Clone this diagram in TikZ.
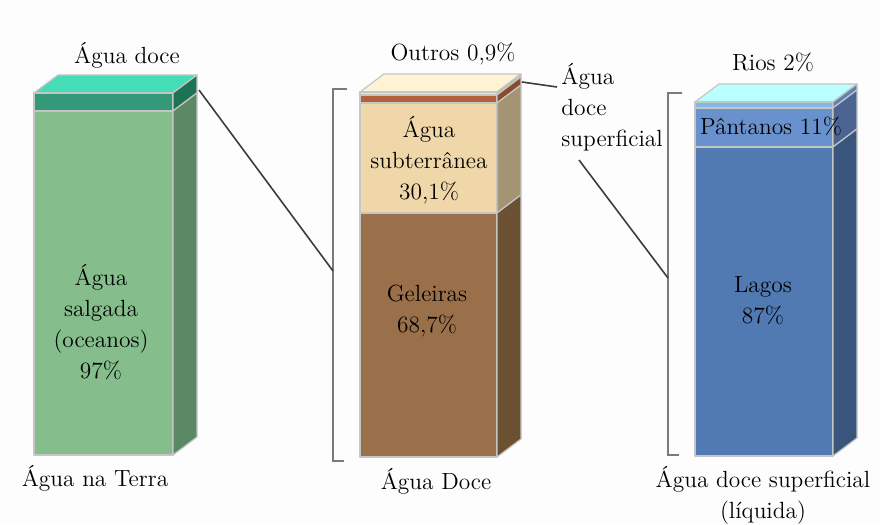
\documentclass[tikz,border=0pt]{standalone}
\usepackage{xcolor}
\usetikzlibrary{positioning,calc}

\definecolor{bg}{HTML}{FCFDFC}
\definecolor{edgegray}{HTML}{C4C6C4}
\definecolor{bracegray}{HTML}{7A7A7A}
\definecolor{linkgray}{HTML}{3C3C3C}
% green bar
\definecolor{gtop}{HTML}{44DDB7}
\definecolor{gstrip}{HTML}{339978}
\definecolor{gstripside}{HTML}{1F7355}
\definecolor{gfront}{HTML}{85BE8C}
\definecolor{gside}{HTML}{5A8964}
% brown bar
\definecolor{ctop}{HTML}{FFF3D6}
\definecolor{cband}{HTML}{F3E3C6}
\definecolor{cbandside}{HTML}{C9BB9E}
\definecolor{redstrip}{HTML}{B45F3C}
\definecolor{redside}{HTML}{8A4A2E}
\definecolor{tan}{HTML}{F0D7AA}
\definecolor{tanside}{HTML}{A59473}
\definecolor{brownfront}{HTML}{9A704A}
\definecolor{brownside}{HTML}{6B5032}
% blue bar
\definecolor{btop}{HTML}{B9FFFF}
\definecolor{rios}{HTML}{84B6E6}
\definecolor{riosside}{HTML}{5E82B4}
\definecolor{pant}{HTML}{6991CD}
\definecolor{pantside}{HTML}{4B6491}
\definecolor{bluefront}{HTML}{5179B2}
\definecolor{blueside}{HTML}{3A557D}

% one layer of a bar: x1, x2, ytop, ybot, front colour, side colour
\newcommand{\slab}[6]{%
  \filldraw[edge,fill=#5] (#1,#3) rectangle (#2,#4);
  \filldraw[edge,fill=#6] (#2,#3) -- ({#2+24},{#3-18}) -- ({#2+24},{#4-18}) -- (#2,#4) -- cycle;}
% top face of a bar: x1, x2, ytop, colour
\newcommand{\lid}[4]{%
  \filldraw[edge,fill=#4] (#1,#3) -- ({#1+24},{#3-18}) -- ({#2+24},{#3-18}) -- (#2,#3) -- cycle;}

\begin{document}
\begin{tikzpicture}[x=0.5pt,y=-0.5pt,
    edge/.style={draw=edgegray,line width=0.6pt,line join=round},
    lbl/.style={font=\fontsize{11.7}{15.5}\selectfont,align=center,inner sep=0pt},
    brace/.style={draw=bracegray,line width=0.8pt},
    link/.style={draw=linkgray,line width=0.8pt}]
    \fill[bg] (0,0) rectangle (880,524);

    % Agua na Terra
    \lid{34}{173}{93}{gtop}
    \slab{34}{173}{93}{111}{gstrip}{gstripside}
    \slab{34}{173}{111}{455}{gfront}{gside}
    \node[lbl] (gdoce) at (127,55) {Água doce};
    \node[lbl] (gsal) at (101,322) {Água\\salgada\\(oceanos)\\97\%};
    \node[lbl] (terra) at (95,478) {Água na Terra};

    % Agua doce
    \lid{360}{497}{92}{ctop}
    \slab{360}{497}{92}{95}{cband}{cbandside}
    \slab{360}{497}{95}{103}{redstrip}{redside}
    \slab{360}{497}{103}{213}{tan}{tanside}
    \slab{360}{497}{213}{457}{brownfront}{brownside}
    \node[lbl] (outros) at (453,54) {Outros 0,9\%};
    \node[lbl] (sub) at (429,160) {Água\\subterrânea\\30,1\%};
    \node[lbl] (gel) at (427,311) {Geleiras\\68,7\%};
    \node[lbl] (doce) at (436,481) {Água Doce};
    \node[lbl,align=left,anchor=west] (sup) at (561,107) {Água\\doce\\superficial};

    % Agua doce superficial
    \lid{695}{833}{102}{btop}
    \slab{695}{833}{102}{108}{rios}{riosside}
    \slab{695}{833}{108}{147}{pant}{pantside}
    \slab{695}{833}{147}{456}{bluefront}{blueside}
    \node[lbl] (rio) at (773,62) {Rios 2\%};
    \node[lbl] (pan) at (771,126) {Pântanos 11\%};
    \node[lbl] (lag) at (763,301) {Lagos\\87\%};
    \node[lbl] (liq) at (763,495) {Água doce superficial\\(líquida)};

    % brackets
    \draw[brace] (347,89) -- (333,89) -- (333,461) -- (344,461);
    \draw[brace] (682,93) -- (668,93) -- (668,455) -- (679,455);
    \coordinate (b1) at (333,271);
    \coordinate (b2) at (668,278);

    % connectors
    \coordinate (g1) at (199,90);
    \coordinate (c1) at (522,82);
    \coordinate (s0) at (557,87);
    \coordinate (s1) at (579,160);
    \draw[link] (g1) -- (b1);
    \draw[link] (c1) -- (s0);
    \draw[link] (s1) -- (b2);
\end{tikzpicture}
\end{document}
